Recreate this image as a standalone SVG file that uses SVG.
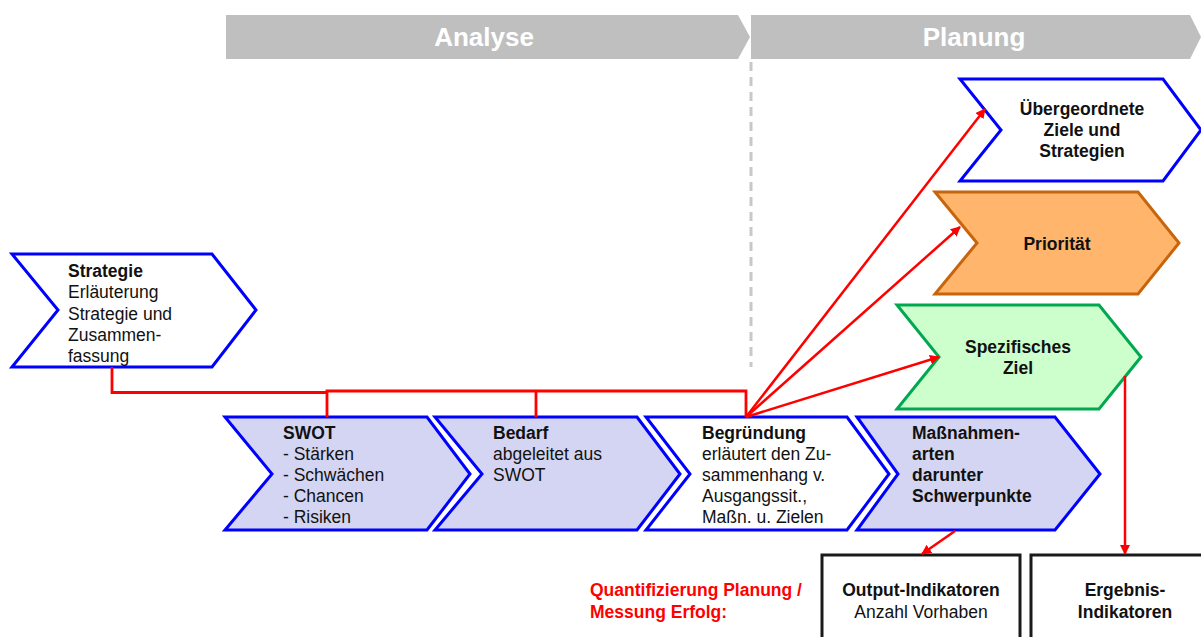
<svg xmlns="http://www.w3.org/2000/svg" width="1201" height="637" viewBox="0 0 1201 637">
<defs>
<style>
text{font-family:"Liberation Sans",Arial,sans-serif;font-size:17.5px;fill:#111}
.b{font-weight:bold}
.c{text-anchor:middle}
.ban{fill:#bfbfbf}
.bt{fill:#fff;font-weight:bold;font-size:26px;text-anchor:middle}
.blue{stroke:#0000ff;stroke-width:3;stroke-linejoin:miter}
.lav{fill:#d4d5f2}
.wh{fill:#fff}
.con{fill:none;stroke:#ff0000;stroke-width:2.8}
.arr{fill:none;stroke:#ff0000;stroke-width:2.5;marker-end:url(#ah)}
.box{fill:#fff;stroke:#1a1a1a;stroke-width:3}
.red{fill:#ff0000;font-weight:bold}
</style>
<marker id="ah" viewBox="0 0 10 10" refX="9" refY="5" markerWidth="4" markerHeight="4" orient="auto" markerUnits="strokeWidth">
<path d="M0,0 L10,5 L0,10 z" fill="#ff0000"/>
</marker>
</defs>

<g id="banner-analyse">
<polygon class="ban" points="226,15 738,15 750,37 738,59 226,59"/>
<text class="bt" x="484" y="46">Analyse</text>
</g>
<g id="banner-planung">
<polygon class="ban" points="751,15 1190,15 1201,37 1190,59 751,59"/>
<text class="bt" x="974" y="46">Planung</text>
</g>
<line x1="751" y1="62" x2="751" y2="367" stroke="#c8c8c8" stroke-width="3" stroke-dasharray="9,6"/>

<g id="strategie">
<polygon class="blue wh" points="12,254 212,254 256,310 212,367 12,367 58,310"/>
<text x="68" y="277"><tspan class="b">Strategie</tspan><tspan x="68" dy="21.3">Erläuterung</tspan><tspan x="68" dy="21.3">Strategie und</tspan><tspan x="68" dy="21.3">Zusammen-</tspan><tspan x="68" dy="21.3">fassung</tspan></text>
</g>

<g id="swot">
<polygon class="blue lav" points="225,417 427,417 470,474 427,530 225,530 272,474"/>
<text x="283" y="439"><tspan class="b">SWOT</tspan><tspan x="283" dy="21">- Stärken</tspan><tspan x="283" dy="21">- Schwächen</tspan><tspan x="283" dy="21">- Chancen</tspan><tspan x="283" dy="21">- Risiken</tspan></text>
</g>
<g id="bedarf">
<polygon class="blue lav" points="435,417 637,417 680,474 637,530 435,530 482,474"/>
<text x="493" y="439"><tspan class="b">Bedarf</tspan><tspan x="493" dy="21">abgeleitet aus</tspan><tspan x="493" dy="21">SWOT</tspan></text>
</g>
<g id="begruendung">
<polygon class="blue wh" points="646,417 847,417 889,474 847,530 646,530 690,474"/>
<text x="702" y="439"><tspan class="b">Begründung</tspan><tspan x="702" dy="21">erläutert den Zu-</tspan><tspan x="702" dy="21">sammenhang v.</tspan><tspan x="702" dy="21">Ausgangssit.,</tspan><tspan x="702" dy="21">Maßn. u. Zielen</tspan></text>
</g>
<g id="massnahmen">
<polygon class="blue lav" points="857,417 1055,417 1100,474 1055,530 857,530 898,474"/>
<text class="b" x="912" y="439"><tspan>Maßnahmen-</tspan><tspan x="912" dy="21">arten</tspan><tspan x="912" dy="21">darunter</tspan><tspan x="912" dy="21">Schwerpunkte</tspan></text>
</g>

<g id="uebergeordnete">
<polygon class="blue wh" points="960,79 1163,79 1201,130 1163,181 960,181 1001,130"/>
<text class="b c" x="1082" y="115"><tspan>Übergeordnete</tspan><tspan x="1082" dy="21">Ziele und</tspan><tspan x="1082" dy="21">Strategien</tspan></text>
</g>
<g id="prioritaet">
<polygon points="935,192 1138,192 1179,243 1138,294 935,294 977,243" fill="#ffb56b" stroke="#c8650c" stroke-width="3"/>
<text class="b c" x="1057" y="250">Priorität</text>
</g>
<g id="spezifisches">
<polygon points="897,305 1099,305 1141,357 1099,409 897,409 939,357" fill="#ccffcc" stroke="#00a84f" stroke-width="3"/>
<text class="b c" x="1018" y="353"><tspan>Spezifisches</tspan><tspan x="1018" dy="21">Ziel</tspan></text>
</g>

<g id="output">
<rect class="box" x="822" y="555" width="198" height="100"/>
<text class="b c" x="921" y="596">Output-Indikatoren</text>
<text class="c" x="921" y="618">Anzahl Vorhaben</text>
</g>
<g id="ergebnis">
<rect class="box" x="1031" y="555" width="198" height="100"/>
<text class="b c" x="1125" y="596">Ergebnis-</text>
<text class="b c" x="1125" y="618">Indikatoren</text>
</g>
<g id="quant">
<text class="red" x="590" y="596">Quantifizierung Planung /</text>
<text class="red" x="590" y="618">Messung Erfolg:</text>
</g>

<g id="connectors">
<polyline class="con" points="112,367 112,392.5 327,392.5"/>
<polyline class="con" points="327,417 327,391 746,391 746,417"/>
<line class="con" x1="536" y1="391" x2="536" y2="417"/>
<line class="arr" x1="746" y1="417" x2="985" y2="109"/>
<line class="arr" x1="746" y1="417" x2="960" y2="227"/>
<line class="arr" x1="746" y1="417" x2="939" y2="357"/>
<line class="arr" x1="955" y1="531" x2="922" y2="554"/>
<line class="arr" x1="1125" y1="376" x2="1125" y2="554"/>
</g>
</svg>
